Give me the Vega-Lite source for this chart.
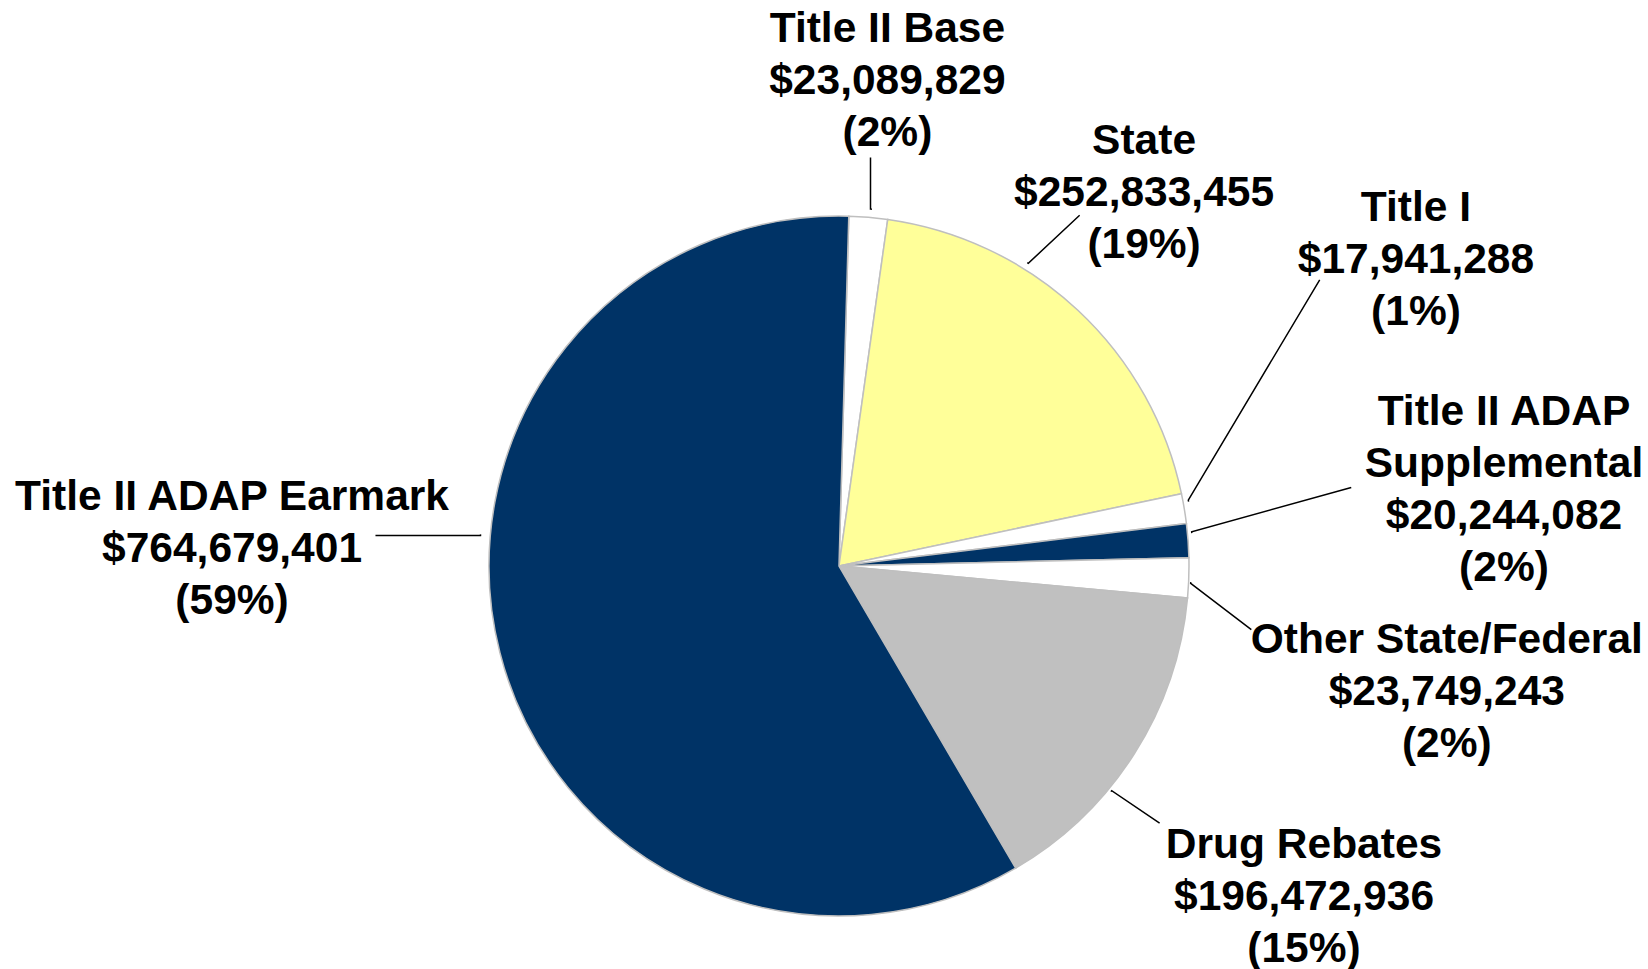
{
  "$schema": "https://vega.github.io/schema/vega-lite/v6.json",
  "width": 1618,
  "height": 806,
  "padding": {"left": 30, "top": 163, "right": 0, "bottom": 0},
  "autosize": {"type": "none"},
  "background": "white",
  "config": {"view": {"stroke": null}},
  "data": {
    "values": [
      {"order": 1, "name": "Title II Base", "value": 23089829, "label": "Title II Base\n$23,089,829\n(2%)"},
      {"order": 2, "name": "State", "value": 252833455, "label": "State\n$252,833,455\n(19%)"},
      {"order": 3, "name": "Title I", "value": 17941288, "label": "Title I\n$17,941,288\n(1%)"},
      {"order": 4, "name": "Title II ADAP Supplemental", "value": 20244082, "label": "Title II ADAP\nSupplemental\n$20,244,082\n(2%)"},
      {"order": 5, "name": "Other State/Federal", "value": 23749243, "label": "Other State/Federal\n$23,749,243\n(2%)"},
      {"order": 6, "name": "Drug Rebates", "value": 196472936, "label": "Drug Rebates\n$196,472,936\n(15%)"},
      {"order": 7, "name": "Title II ADAP Earmark", "value": 764679401, "label": "Title II ADAP Earmark\n$764,679,401\n(59%)"}
    ]
  },
  "encoding": {
    "theta": {"field": "value", "type": "quantitative", "stack": true, "scale": {"domain": [0, 1299010234], "range": [0.028, 6.311185]}},
    "order": {"field": "order", "type": "quantitative"}
  },
  "layer": [
    {
      "mark": {"type": "arc", "outerRadius": 350, "stroke": "#bfbfbf", "strokeWidth": 1.5},
      "encoding": {
        "color": {
          "field": "name", "type": "nominal", "legend": null,
          "scale": {
            "domain": ["Title II Base", "State", "Title I", "Title II ADAP Supplemental", "Other State/Federal", "Drug Rebates", "Title II ADAP Earmark"],
            "range": ["#ffffff", "#ffff99", "#ffffff", "#003366", "#ffffff", "#c0c0c0", "#003366"]
          }
        }
      }
    },
    {
      "transform": [{"filter": "datum.order === 1"}],
      "mark": {"type": "arc", "filled": false, "innerRadius": 358.39, "outerRadius": 410.21, "padAngle": 0.115722, "strokeDash": [0, 13.7, 53, 5000], "stroke": "#000000", "strokeWidth": 1.5},
      "encoding": {"theta": {"datum": 32668430}, "theta2": {"datum": -5788829}}
    },
    {
      "transform": [{"filter": "datum.order === 2"}],
      "mark": {"type": "arc", "filled": false, "innerRadius": 357.02, "outerRadius": 425.77, "padAngle": 0.332786, "strokeDash": [0, 41.2, 71.5, 5000], "stroke": "#000000", "strokeWidth": 1.5},
      "encoding": {"theta": {"datum": 53776200}, "theta2": {"datum": 163644100}}
    },
    {
      "transform": [{"filter": "datum.order === 3"}],
      "mark": {"type": "arc", "filled": false, "innerRadius": 355.48, "outerRadius": 559.96, "padAngle": 0.825858, "strokeDash": [0, 398.9, 258, 5000], "stroke": "#000000", "strokeWidth": 1.5},
      "encoding": {"theta": {"datum": 457331400}, "theta2": {"datum": 105444100}}
    },
    {
      "transform": [{"filter": "datum.order === 4"}],
      "mark": {"type": "arc", "filled": false, "innerRadius": 354.36, "outerRadius": 518.71, "padAngle": 0.195378, "strokeDash": [0, 63.1, 167, 5000], "stroke": "#000000", "strokeWidth": 1.5},
      "encoding": {"theta": {"datum": 336919800}, "theta2": {"datum": 262998100}}
    },
    {
      "transform": [{"filter": "datum.order === 5"}],
      "mark": {"type": "arc", "filled": false, "innerRadius": 352.13, "outerRadius": 417.63, "padAngle": 0.749902, "strokeDash": [0, 92.1, 77.5, 5000], "stroke": "#000000", "strokeWidth": 1.5},
      "encoding": {"theta": {"datum": 202129000}, "theta2": {"datum": 454047700}}
    },
    {
      "transform": [{"filter": "datum.order === 6"}],
      "mark": {"type": "arc", "filled": false, "innerRadius": 353.35, "outerRadius": 411.39, "padAngle": 0.124326, "strokeDash": [0, 15.7, 59, 5000], "stroke": "#000000", "strokeWidth": 1.5},
      "encoding": {"theta": {"datum": 483261600}, "theta2": {"datum": 441710200}}
    },
    {
      "transform": [{"filter": "datum.order === 7"}],
      "mark": {"type": "arc", "filled": false, "innerRadius": 359.8, "outerRadius": 465.0, "padAngle": 0.103798, "strokeDash": [0, 23.0, 106.2, 5000], "stroke": "#000000", "strokeWidth": 1.5},
      "encoding": {"theta": {"datum": 1005629900}, "theta2": {"datum": 968468800}}
    },
    {
      "mark": {"type": "text", "radius": 350, "dx": 19.1, "dy": -208.9, "align": "center", "baseline": "top", "lineBreak": "\n", "font": "Liberation Sans", "fontWeight": "bold", "fontSize": 42.5, "lineHeight": 52, "color": "#000000"},
      "encoding": {"text": {"condition": {"test": "datum.name === 'Title II Base'", "field": "label", "type": "nominal"}, "value": ""}}
    },
    {
      "mark": {"type": "text", "radius": 350, "dx": 66.2, "dy": -190.3, "align": "center", "baseline": "top", "lineBreak": "\n", "font": "Liberation Sans", "fontWeight": "bold", "fontSize": 42.5, "lineHeight": 52, "color": "#000000"},
      "encoding": {"text": {"condition": {"test": "datum.name === 'State'", "field": "label", "type": "nominal"}, "value": ""}}
    },
    {
      "mark": {"type": "text", "radius": 350, "dx": 231.7, "dy": -321.1, "align": "center", "baseline": "top", "lineBreak": "\n", "font": "Liberation Sans", "fontWeight": "bold", "fontSize": 42.5, "lineHeight": 52, "color": "#000000"},
      "encoding": {"text": {"condition": {"test": "datum.name === 'Title I'", "field": "label", "type": "nominal"}, "value": ""}}
    },
    {
      "mark": {"type": "text", "radius": 350, "dx": 315.9, "dy": -149.4, "align": "center", "baseline": "top", "lineBreak": "\n", "font": "Liberation Sans", "fontWeight": "bold", "fontSize": 42.5, "lineHeight": 52, "color": "#000000"},
      "encoding": {"text": {"condition": {"test": "datum.name === 'Title II ADAP Supplemental'", "field": "label", "type": "nominal"}, "value": ""}}
    },
    {
      "mark": {"type": "text", "radius": 350, "dx": 258, "dy": 41.3, "align": "center", "baseline": "top", "lineBreak": "\n", "font": "Liberation Sans", "fontWeight": "bold", "fontSize": 42.5, "lineHeight": 52, "color": "#000000"},
      "encoding": {"text": {"condition": {"test": "datum.name === 'Other State/Federal'", "field": "label", "type": "nominal"}, "value": ""}}
    },
    {
      "mark": {"type": "text", "radius": 350, "dx": 169.7, "dy": 70.2, "align": "center", "baseline": "top", "lineBreak": "\n", "font": "Liberation Sans", "fontWeight": "bold", "fontSize": 42.5, "lineHeight": 52, "color": "#000000"},
      "encoding": {"text": {"condition": {"test": "datum.name === 'Drug Rebates'", "field": "label", "type": "nominal"}, "value": ""}}
    },
    {
      "mark": {"type": "text", "radius": 350, "dx": -267.9, "dy": -177, "align": "center", "baseline": "top", "lineBreak": "\n", "font": "Liberation Sans", "fontWeight": "bold", "fontSize": 42.5, "lineHeight": 52, "color": "#000000"},
      "encoding": {"text": {"condition": {"test": "datum.name === 'Title II ADAP Earmark'", "field": "label", "type": "nominal"}, "value": ""}}
    }
  ]
}
